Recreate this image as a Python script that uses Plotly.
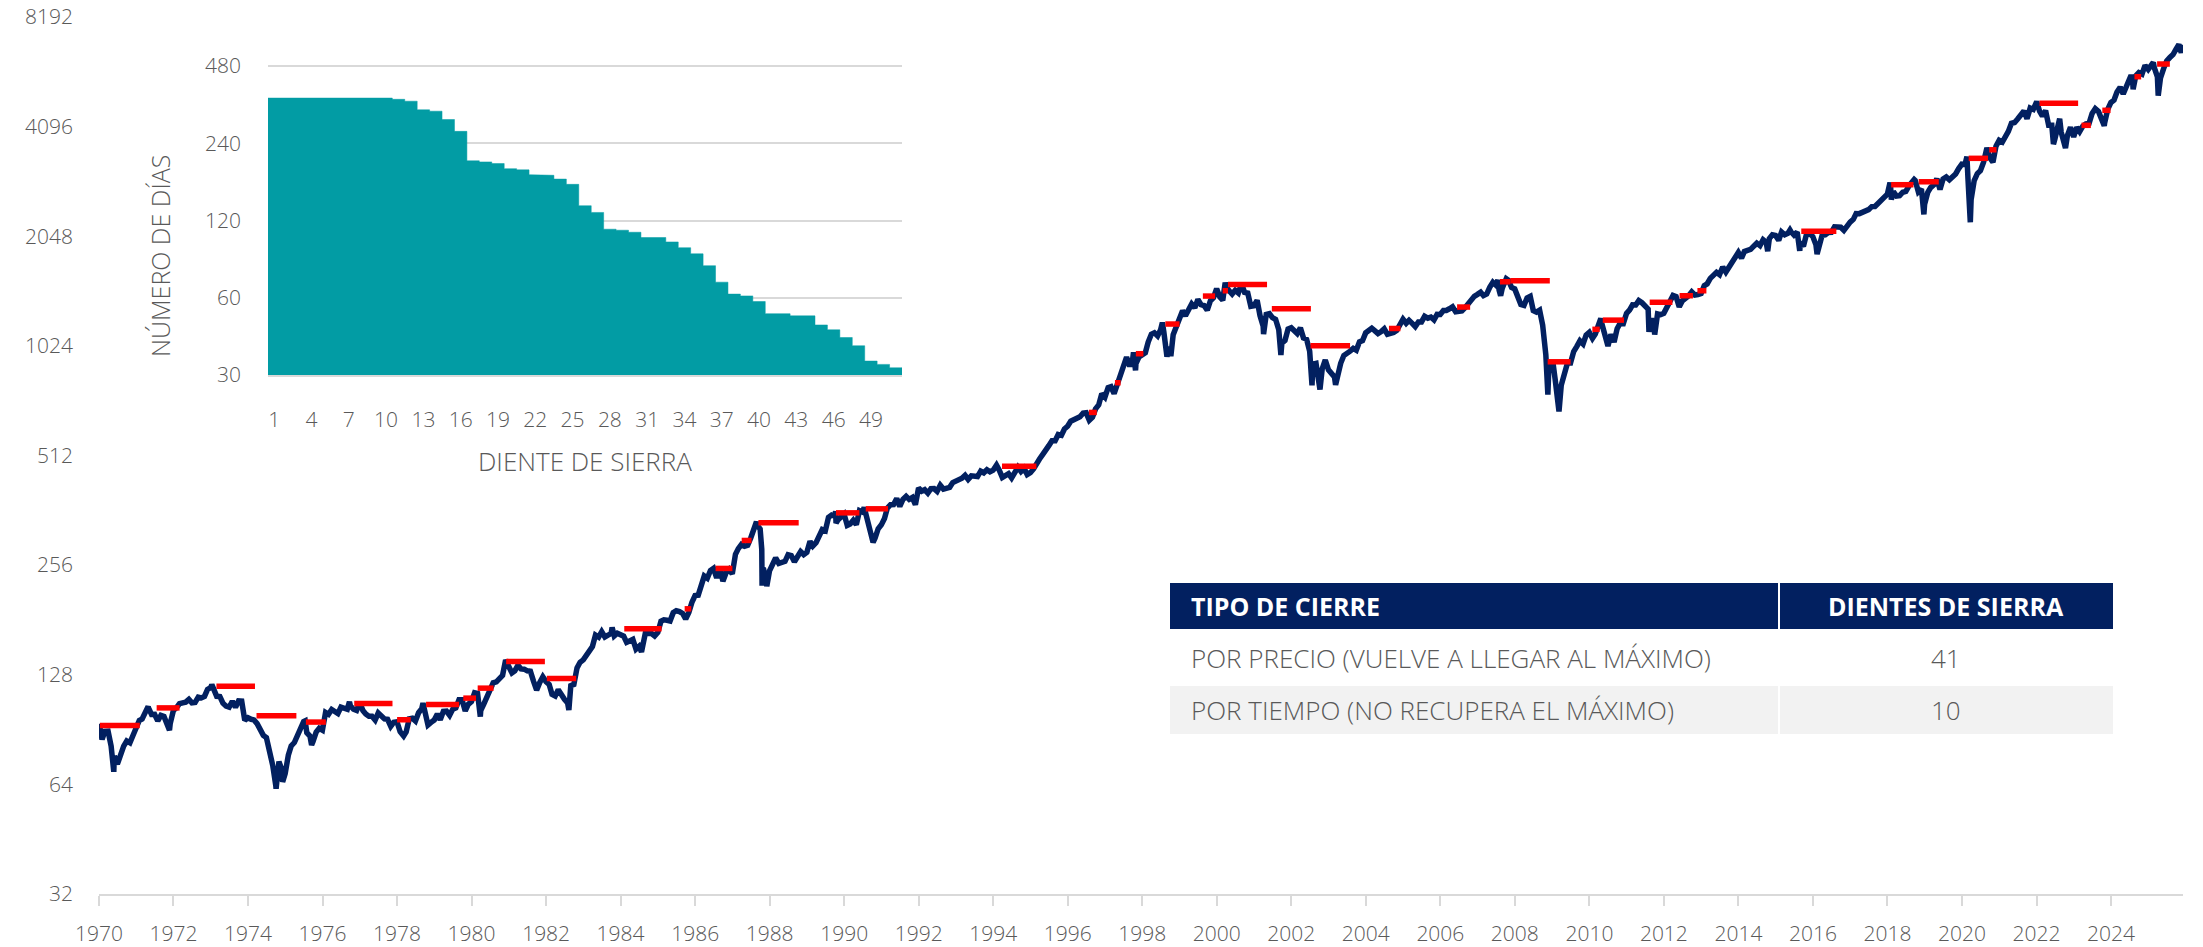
import math
import pandas as pd
import plotly.graph_objects as go

# ---------------- DATA ----------------
# S&P 500 month-end closes (log scale)
close_1970s = [
    85.02, 89.50, 89.63, 81.52, 76.55, 72.72, 78.05, 81.52, 84.21, 83.25, 87.20, 92.15,
    95.88, 96.75, 100.31, 103.95, 99.63, 99.70, 95.58, 99.03, 98.34, 94.23, 93.99, 102.09,
    103.94, 106.57, 107.20, 107.67, 109.53, 107.14, 107.39, 111.09, 110.55, 111.58, 116.67, 118.05,
    116.03, 111.68, 111.52, 106.97, 104.95, 104.26, 108.22, 104.25, 108.43, 108.29, 95.96, 97.55,
    96.57, 96.22, 93.98, 90.31, 87.28, 86.00, 79.31, 72.15, 63.54, 73.90, 69.97, 68.56,
    76.98, 81.59, 83.36, 87.30, 91.15, 95.19, 88.75, 86.88, 83.87, 89.04, 91.24, 90.19,
    100.86, 99.71, 102.77, 101.64, 100.18, 104.28, 103.44, 102.91, 105.24, 102.90, 102.10, 107.46,
    102.03, 99.82, 98.42, 98.44, 96.12, 100.48, 98.85, 96.77, 96.53, 92.34, 94.83, 95.10,
    89.25, 87.04, 89.21, 96.83, 97.24, 95.53, 100.68, 103.29, 102.54, 93.15, 94.70, 96.11,
    99.93, 96.28, 101.59, 101.76, 99.08, 102.91, 103.81, 109.32, 109.32, 101.82, 106.16, 107.94,
]
close_1980s = [
    114.16, 113.66, 102.09, 106.29, 111.24, 114.24, 121.67, 122.38, 125.46, 127.47, 140.52, 135.76,
    129.55, 131.27, 136.00, 132.81, 132.59, 131.21, 130.92, 122.79, 116.18, 121.89, 126.35, 122.55,
    120.40, 113.11, 111.96, 116.44, 111.88, 109.61, 107.09, 119.51, 120.42, 133.71, 138.54, 140.64,
    145.30, 148.06, 152.96, 164.42, 162.39, 168.11, 162.56, 164.40, 166.07, 163.55, 166.40, 164.93,
    163.41, 157.06, 159.18, 160.05, 150.55, 153.18, 150.66, 166.68, 166.10, 166.09, 163.58, 167.24,
    179.63, 181.18, 180.66, 179.83, 189.55, 191.85, 190.92, 188.63, 182.08, 189.82, 202.17, 211.28,
    211.78, 226.92, 238.90, 235.52, 247.35, 250.84, 236.12, 252.93, 231.32, 243.98, 249.22, 242.17,
    274.08, 284.20, 291.70, 288.36, 290.10, 304.00, 318.66, 329.80, 321.83, 251.79, 230.30, 247.08,
    257.07, 267.82, 258.89, 261.33, 262.16, 273.50, 272.02, 261.52, 271.91, 278.97, 273.70, 277.72,
    297.47, 288.86, 294.87, 309.64, 320.52, 317.98, 346.08, 351.45, 349.15, 340.36, 345.99, 353.40,
]
close_1990s = [
    329.08, 331.89, 339.94, 330.80, 361.23, 358.02, 356.15, 322.56, 306.05, 304.00, 322.22, 330.22,
    343.93, 367.07, 375.22, 375.34, 389.83, 371.16, 387.81, 395.43, 387.86, 392.46, 375.22, 417.09,
    408.79, 412.70, 403.69, 414.95, 415.35, 408.14, 424.21, 414.03, 417.80, 418.68, 431.35, 435.71,
    438.78, 443.38, 451.67, 440.19, 450.19, 450.53, 448.13, 463.56, 458.93, 467.83, 461.79, 466.45,
    481.61, 467.14, 445.77, 450.91, 456.50, 444.27, 458.26, 475.49, 462.69, 472.35, 453.69, 459.27,
    470.42, 487.39, 500.71, 514.71, 533.40, 544.75, 562.06, 561.88, 584.41, 581.50, 605.37, 615.93,
    636.02, 640.43, 645.50, 654.17, 669.12, 670.63, 639.95, 651.99, 687.31, 705.27, 757.02, 740.74,
    786.16, 790.82, 757.12, 801.34, 848.28, 885.14, 954.29, 899.47, 947.28, 914.62, 955.40, 970.43,
    980.28, 1049.34, 1101.75, 1111.75, 1090.82, 1133.84, 1120.67, 957.28, 1017.01, 1098.67, 1163.63, 1229.23,
    1279.64, 1238.33, 1286.37, 1335.18, 1301.84, 1372.71, 1328.72, 1320.41, 1282.71, 1362.93, 1388.91, 1469.25,
]
close_2000s = [
    1394.46, 1366.42, 1498.58, 1452.43, 1420.60, 1454.60, 1430.83, 1517.68, 1436.51, 1429.40, 1314.95, 1320.28,
    1366.01, 1239.94, 1160.33, 1249.46, 1255.82, 1224.42, 1211.23, 1133.58, 1040.94, 1059.78, 1139.45, 1148.08,
    1130.20, 1106.73, 1147.39, 1076.92, 1067.14, 989.82, 911.62, 916.07, 815.28, 885.76, 936.31, 879.82,
    855.70, 841.15, 848.18, 916.92, 963.59, 974.50, 990.31, 1008.01, 995.97, 1050.71, 1058.20, 1111.92,
    1131.13, 1144.94, 1126.21, 1107.30, 1120.68, 1140.84, 1101.72, 1104.24, 1114.58, 1130.20, 1173.82, 1211.92,
    1181.27, 1203.60, 1180.59, 1156.85, 1191.50, 1191.33, 1234.18, 1220.33, 1228.81, 1207.01, 1249.48, 1248.29,
    1280.08, 1280.66, 1294.83, 1310.61, 1270.09, 1270.20, 1276.66, 1303.82, 1335.85, 1377.94, 1400.63, 1418.30,
    1438.24, 1406.82, 1420.86, 1482.37, 1530.62, 1503.35, 1455.27, 1473.99, 1526.75, 1549.38, 1481.14, 1468.36,
    1378.55, 1330.63, 1322.70, 1385.59, 1400.38, 1280.00, 1267.38, 1282.83, 1166.36, 968.75, 896.24, 903.25,
    825.88, 735.09, 797.87, 872.81, 919.14, 919.32, 987.48, 1020.62, 1057.08, 1036.19, 1095.63, 1115.10,
]
close_2010s = [
    1073.87, 1104.49, 1169.43, 1186.69, 1089.41, 1030.71, 1101.60, 1049.33, 1141.20, 1183.26, 1180.55, 1257.64,
    1286.12, 1327.22, 1325.83, 1363.61, 1345.20, 1320.64, 1292.28, 1218.89, 1131.42, 1253.30, 1246.96, 1257.60,
    1312.41, 1365.68, 1408.47, 1397.91, 1310.33, 1362.16, 1379.32, 1406.58, 1440.67, 1412.16, 1416.18, 1426.19,
    1498.11, 1514.68, 1569.19, 1597.57, 1630.74, 1606.28, 1685.73, 1632.97, 1681.55, 1756.54, 1805.81, 1848.36,
    1782.59, 1859.45, 1872.34, 1883.95, 1923.57, 1960.23, 1930.67, 2003.37, 1972.29, 2018.05, 2067.56, 2058.90,
    1994.99, 2104.50, 2067.89, 2085.51, 2107.39, 2063.11, 2103.84, 1972.18, 1920.03, 2079.36, 2080.41, 2043.94,
    1940.24, 1932.23, 2059.74, 2065.30, 2096.95, 2098.86, 2173.60, 2170.95, 2168.27, 2126.15, 2198.81, 2238.83,
    2278.87, 2363.64, 2362.72, 2384.20, 2411.80, 2423.41, 2470.30, 2471.65, 2519.36, 2575.26, 2647.58, 2673.61,
    2823.81, 2713.83, 2640.87, 2648.05, 2705.27, 2718.37, 2816.29, 2901.52, 2913.98, 2711.74, 2760.17, 2506.85,
    2704.10, 2784.49, 2834.40, 2945.83, 2752.06, 2941.76, 2980.38, 2926.46, 2976.74, 3037.56, 3140.98, 3230.78,
]
close_2020s = [
    3225.52, 2954.22, 2584.59, 2912.43, 3044.31, 3100.29, 3271.12, 3500.31, 3363.00, 3269.96, 3621.63, 3756.07,
    3714.24, 3811.15, 3972.89, 4181.17, 4204.11, 4297.50, 4395.26, 4522.68, 4307.54, 4605.38, 4567.00, 4766.18,
    4515.55, 4373.94, 4530.41, 4131.93, 4132.15, 3785.38, 4130.29, 3955.00, 3585.62, 3871.98, 4080.11, 3839.50,
    4076.60, 3970.15, 4109.31, 4169.48, 4179.83, 4450.38, 4588.96, 4507.66, 4288.05, 4193.80, 4567.80, 4769.83,
    4845.65, 5096.27, 5254.35, 5035.69, 5277.51, 5460.48, 5522.30, 5648.40, 5762.48, 5705.45, 6032.38, 5881.63,
    6040.53, 5954.50, 5611.85, 5569.06, 5911.69, 6204.95, 6339.39, 6460.26, 6688.46, 6840.20, 6849.09,
]
# intra-month highs / lows visible on the chart
extra_dates = [
    "1970-01-02", "1970-01-05", "1970-05-26", "1971-04-28", "1971-11-23", "1973-01-11", "1974-10-03",
    "1974-12-06", "1975-07-15", "1975-09-16", "1976-09-21", "1978-03-06", "1978-09-12", "1980-03-27",
    "1982-08-12", "1983-10-10", "1984-07-24", "1987-08-25", "1987-10-16", "1987-10-19", "1987-12-04",
    "1989-10-09", "1989-10-13", "1990-07-16", "1990-10-11", "1994-02-02", "1997-10-07", "1997-10-27",
    "1998-07-17", "1998-10-08", "2000-03-24", "2001-04-04", "2001-09-21", "2002-07-23", "2002-10-09",
    "2003-03-11", "2007-07-19", "2007-08-15", "2007-10-09", "2008-11-20", "2009-01-06", "2009-03-09",
    "2010-04-23", "2010-07-02", "2011-08-08", "2011-10-03", "2014-10-15", "2015-05-21", "2015-08-25",
    "2016-02-11", "2018-01-26", "2018-02-08", "2018-09-20", "2018-12-24", "2020-02-19", "2020-03-23",
    "2020-09-02", "2022-01-03", "2022-06-16", "2022-08-16", "2022-10-12", "2023-07-31", "2023-10-27",
    "2024-07-16", "2024-08-05", "2025-02-19", "2025-04-08", "2025-10-28", "2025-11-20", "2025-12-05",
]
extra_values = [
    93.00, 93.46, 69.29, 104.77, 90.16, 120.24, 62.28,
    65.01, 95.61, 82.09, 107.83, 86.90, 106.99, 98.22,
    102.42, 172.65, 147.82, 336.77, 282.70, 224.84, 223.92,
    359.80, 333.65, 368.95, 295.46, 482.00, 983.12, 876.99,
    1186.75, 959.44, 1527.46, 1103.25, 965.80, 797.70, 776.76,
    800.73, 1553.08, 1406.70, 1565.15, 752.44, 934.70, 676.53,
    1217.28, 1022.58, 1119.46, 1099.23, 1862.49, 2130.82, 1867.61,
    1829.08, 2872.87, 2581.00, 2930.75, 2351.10, 3386.15, 2237.40,
    3580.84, 4796.56, 3666.77, 4305.20, 3577.03, 4588.96, 4117.37,
    5667.20, 5186.33, 6144.15, 4982.77, 6890.89, 6538.76, 6870.00,
]

# sawtooth (diente de sierra) reference levels: start, end, level
seg_start = [
    "1970-01-10", "1971-07-20", "1973-02-25", "1974-03-25", "1975-07-22", "1976-11-07", "1978-01-01",
    "1978-10-12", "1979-10-12", "1980-03-01", "1980-12-05", "1982-01-08", "1984-02-06", "1985-09-20",
    "1986-07-20", "1987-04-02", "1987-09-13", "1989-10-12", "1990-07-31", "1994-03-28", "1996-07-27",
    "1997-04-08", "1997-10-30", "1998-08-15", "1999-08-18", "2000-02-28", "2000-04-20", "2001-06-24",
    "2002-07-08", "2004-08-15", "2006-06-14", "2007-08-08", "2007-11-18", "2008-11-18", "2010-01-30",
    "2010-05-12", "2011-08-15", "2012-06-03", "2012-11-25", "2015-09-09", "2018-02-06", "2018-11-03",
    "2020-03-07", "2020-09-24", "2022-01-30", "2023-03-18", "2023-10-08", "2024-08-18", "2025-03-28",
]
seg_end = [
    "1971-02-05", "1972-03-01", "1974-03-10", "1975-04-20", "1976-02-03", "1977-11-17", "1978-05-15",
    "1979-09-01", "1980-02-14", "1980-08-04", "1981-12-20", "1982-10-23", "1985-02-06", "1985-11-24",
    "1987-01-01", "1987-07-08", "1988-10-12", "1990-05-30", "1991-03-07", "1995-02-28", "1996-10-12",
    "1997-06-03", "1998-01-12", "1999-01-01", "1999-12-16", "2000-04-20", "2001-05-08", "2002-07-12",
    "2003-07-31", "2004-12-06", "2006-10-20", "2007-11-18", "2008-12-09", "2009-07-01", "2010-04-12",
    "2010-12-06", "2012-03-25", "2012-10-12", "2013-02-21", "2016-08-18", "2018-09-13", "2019-05-19",
    "2020-09-13", "2020-12-05", "2023-02-13", "2023-06-18", "2023-12-28", "2024-10-23", "2025-07-31",
]
seg_level = [
    92.8, 103.8, 119.1, 98.7, 94.9, 106.7, 96.3,
    106.1, 110.4, 117.6, 139.2, 125.0, 171.1, 194.2,
    250.7, 299.2, 334.5, 356.3, 365.5, 478.6, 672.3,
    811.0, 974.5, 1175.6, 1403.0, 1451.0, 1510.7, 1295.0,
    1025.0, 1143.0, 1309.0, 1536.0, 1545.0, 926.0, 1137.0,
    1205.0, 1349.0, 1406.0, 1451.0, 2113.0, 2837.0, 2890.0,
    3352.0, 3538.0, 4748.0, 4130.0, 4541.0, 5616.0, 6085.0,
]

# inset: days per sawtooth, sorted
sawtooth_ids = list(range(1, 52))
sawtooth_days = [
    360, 360, 360, 360, 360, 360, 360, 360, 360, 360,
    356, 350, 324, 320, 297, 267, 205, 203, 200, 191,
    189, 181, 180, 174, 166, 137, 129, 111, 110, 108,
    103, 103, 99, 94, 89, 80, 69, 62, 61, 58,
    52, 52, 51, 51, 47, 45, 42, 39, 34, 33, 32,
]
inset_xticks = [1, 4, 7, 10, 13, 16, 19, 22, 25, 28, 31, 34, 37, 40, 43, 46, 49]
inset_yticks = [30, 60, 120, 240, 480]
main_yticks = [32, 64, 128, 256, 512, 1024, 2048, 4096, 8192]

table_header = ["TIPO DE CIERRE", "DIENTES DE SIERRA"]
table_labels = ["POR PRECIO (VUELVE A LLEGAR AL MÁXIMO)", "POR TIEMPO (NO RECUPERA EL MÁXIMO)"]
table_counts = [41, 10]

# ---------------- STYLE / LAYOUT ----------------
W, H = 2203, 947
PL, PR, PT, PB = 99, 2183, 17, 894
NAVY = "#022060"
RED = "#ff0000"
TEAL = "#029ca4"
GRAY_TXT = "#595959"
GRID = "#d9d9d9"
FONT = "Open Sans, Lato, sans-serif"
INSET_FLOOR = 29.9
INSET_TOP = 500.0
# inset plot box: 30 at pixel 375, 480 at pixel 66
_ppl = (375 - 66) / math.log10(480 / 30)
INSET_Y0 = 375 + math.log10(30 / INSET_FLOOR) * _ppl
INSET_Y1 = 66 - math.log10(INSET_TOP / 480) * _ppl


def px(x):
    return (x - PL) / (PR - PL)


def py(y):
    return (PB - y) / (PB - PT)


monthly_values = close_1970s + close_1980s + close_1990s + close_2000s + close_2010s + close_2020s
monthly_dates = pd.date_range("1970-01-31", periods=len(monthly_values), freq="ME")
price = pd.concat([
    pd.DataFrame({"d": monthly_dates, "v": monthly_values}),
    pd.DataFrame({"d": pd.to_datetime(extra_dates), "v": extra_values}),
]).sort_values("d")

seg_x, seg_y = [], []
for s, e, lv in zip(seg_start, seg_end, seg_level):
    seg_x += [s, e, None]
    seg_y += [lv, lv, None]

# step outline of the inset area (each sawtooth occupies [id-0.5, id+0.5])
step_x = [sawtooth_ids[0] - 0.5]
step_y = [INSET_FLOOR]
for i, d in zip(sawtooth_ids, sawtooth_days):
    step_x += [i - 0.5, i + 0.5]
    step_y += [d, d]
step_x += [sawtooth_ids[-1] + 0.5]
step_y += [INSET_FLOOR]

fig = go.Figure()
fig.add_trace(go.Scatter(x=price["d"], y=price["v"], mode="lines",
                         line=dict(color=NAVY, width=5.5), hoverinfo="skip"))
fig.add_trace(go.Scatter(x=seg_x, y=seg_y, mode="lines",
                         line=dict(color=RED, width=5.5), hoverinfo="skip"))
fig.add_trace(go.Scatter(x=step_x, y=step_y, xaxis="x2", yaxis="y2", mode="lines",
                         fill="toself", fillcolor=TEAL, line=dict(color=TEAL, width=0.5),
                         hoverinfo="skip"))

tickfont = dict(family=FONT, size=21, color=GRAY_TXT, weight=300)

fig.update_layout(
    width=W, height=H,
    margin=dict(l=PL, r=W - PR, t=PT, b=H - PB, autoexpand=False),
    paper_bgcolor="white", plot_bgcolor="white",
    showlegend=False,
    xaxis=dict(type="date", range=["1970-01-01", "2025-12-07"], domain=[0, 1], automargin=False,
               showgrid=False, zeroline=False, showline=True, linecolor=GRID, linewidth=2,
               ticks="outside", ticklen=10, tickwidth=1.5, tickcolor=GRID,
               tick0="1970-01-01", dtick="M24", tickformat="%Y", ticklabeloverflow="allow",
               tickfont=tickfont, ticklabelstandoff=10),
    yaxis=dict(type="log", range=[math.log10(32), math.log10(8192)], domain=[0, 1], automargin=False,
               showgrid=False, zeroline=False, showline=False, ticks="",
               tickvals=main_yticks, ticktext=[str(v) for v in main_yticks], ticklabeloverflow="allow",
               tickfont=tickfont, ticklabelstandoff=25),
    xaxis2=dict(domain=[px(268), px(902)], anchor="y2", range=[0.5, 51.5], automargin=False,
                tickvals=inset_xticks, ticktext=[str(v) for v in inset_xticks],
                showgrid=False, zeroline=False, showline=True, linecolor=GRID, linewidth=2,
                ticks="", tickfont=tickfont, ticklabelstandoff=24, ticklabeloverflow="allow"),
    yaxis2=dict(domain=[py(INSET_Y0), py(INSET_Y1)], anchor="x2", type="log", automargin=False,
                range=[math.log10(INSET_FLOOR), math.log10(INSET_TOP)],
                tickvals=inset_yticks, ticktext=[str(v) for v in inset_yticks],
                showgrid=True, gridcolor=GRID, gridwidth=1.5, zeroline=False, ticklabeloverflow="allow",
                showline=False, ticks="", tickfont=tickfont, ticklabelstandoff=26),
)

annotations = [
    dict(x=px(585), y=py(461), xref="paper", yref="paper", text="DIENTE DE SIERRA", showarrow=False,
         xanchor="center", yanchor="middle",
         font=dict(family=FONT, size=26, color=GRAY_TXT, weight=300)),
    dict(x=px(160), y=py(256), xref="paper", yref="paper", text="NÚMERO DE DÍAS", showarrow=False,
         textangle=-90, xanchor="center", yanchor="middle",
         font=dict(family=FONT, size=25, color=GRAY_TXT, weight=300)),
]

# table
shapes = []
col1 = (1170, 1778)
col2 = (1780, 2113)
rows_y = [(583, 629), (630, 685), (686, 734)]
for c in (col1, col2):
    shapes.append(dict(type="rect", xref="paper", yref="paper", x0=px(c[0]), x1=px(c[1]),
                       y0=py(rows_y[0][1]), y1=py(rows_y[0][0]), fillcolor=NAVY, line=dict(width=0),
                       layer="above"))
    shapes.append(dict(type="rect", xref="paper", yref="paper", x0=px(c[0]), x1=px(c[1]),
                       y0=py(rows_y[2][1]), y1=py(rows_y[2][0]), fillcolor="#f2f2f2", line=dict(width=0),
                       layer="below"))

annotations.append(dict(x=px(1189), y=py(606), xref="paper", yref="paper", text=table_header[0],
                        showarrow=False, xanchor="left", yanchor="middle",
                        font=dict(family=FONT, size=25, color="white", weight=700)))
annotations.append(dict(x=px(1946), y=py(606), xref="paper", yref="paper", text=table_header[1],
                        showarrow=False, xanchor="center", yanchor="middle",
                        font=dict(family=FONT, size=25, color="white", weight=700)))
for i, (lab, cnt) in enumerate(zip(table_labels, table_counts)):
    yc = (rows_y[i + 1][0] + rows_y[i + 1][1]) / 2
    annotations.append(dict(x=px(1189), y=py(yc), xref="paper", yref="paper", text=lab,
                            showarrow=False, xanchor="left", yanchor="middle",
                            font=dict(family=FONT, size=26, color=GRAY_TXT, weight=300)))
    annotations.append(dict(x=px(1946), y=py(yc), xref="paper", yref="paper", text=str(cnt),
                            showarrow=False, xanchor="center", yanchor="middle",
                            font=dict(family=FONT, size=26, color=GRAY_TXT, weight=300)))

fig.update_layout(annotations=annotations, shapes=shapes)
fig.write_html("out.html", config={"displayModeBar": False},
               post_script="document.body.style.margin='0';document.body.style.overflow='hidden';")
